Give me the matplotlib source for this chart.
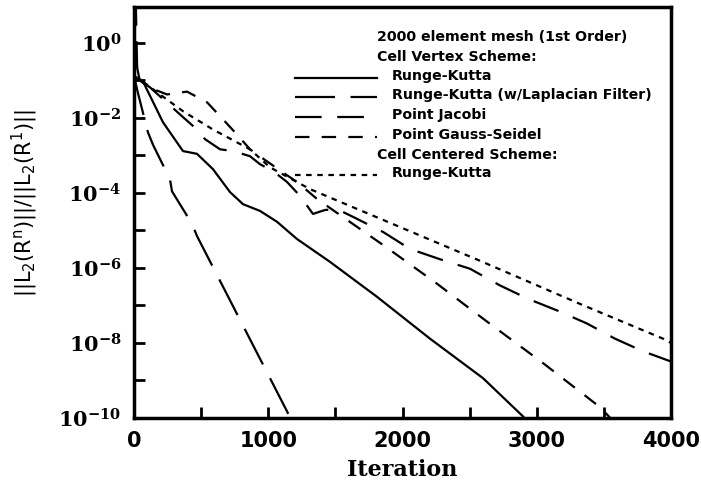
import matplotlib
matplotlib.use("Agg")
import matplotlib.pyplot as plt
from matplotlib.ticker import FixedLocator, NullFormatter

plt.rcParams["mathtext.fontset"] = "dejavuserif"

# values (iteration, residual ratio)
rk_x = [0, 40, 67, 216, 365, 469, 588, 715, 812, 939, 1065, 1214, 1460, 1810, 2205, 2600, 2898, 2915]
rk_y = [0.56, 0.11, 0.093, 7.6e-3, 1.3e-3, 1.1e-3, 4.3e-4, 1.05e-4, 5.0e-5, 3.3e-5,
        1.7e-5, 5.9e-6, 1.45e-6, 1.7e-7, 1.3e-8, 1.15e-9, 1.1e-10, 9e-11]

lf_x = [0, 30, 104, 142, 268, 283, 432, 469, 1140, 1170]
lf_y = [0.13, 0.045, 4.1e-3, 1.9e-3, 2.3e-4, 1.1e-4, 1.5e-5, 7.1e-6, 1.5e-10, 9e-11]

pj_x = [0, 12, 25, 119, 358, 469, 529, 641, 738, 864, 939, 1036, 1140, 1237, 1333, 1423,
        1512, 1631, 1855, 2056, 2280, 2503, 2727, 2935, 3158, 3374, 3583, 3792, 4000]
pj_y = [0.13, 20.0, 0.11, 0.065, 0.011, 4.9e-3, 2.7e-3, 1.45e-3, 1.3e-3, 9.5e-4, 5.8e-4,
        3.8e-4, 1.95e-4, 8.3e-5, 2.75e-5, 3.5e-5, 3.7e-5, 2.3e-5, 9.1e-6, 3.2e-6, 1.7e-6,
        9.5e-7, 3.4e-7, 1.5e-7, 7.2e-8, 3.3e-8, 1.3e-8, 6.0e-9, 3.2e-9]

gs_x = [0, 120, 246, 395, 544, 663, 767, 864, 991, 1110, 1214, 1363, 1877, 2257, 2376,
        2630, 3047, 3471, 3560]
gs_y = [0.13, 0.063, 0.042, 0.05, 0.026, 9.1e-3, 3.6e-3, 1.45e-3, 6.9e-4, 3.5e-4, 1.95e-4,
        6.9e-5, 3.6e-6, 3.8e-7, 1.8e-7, 3.7e-8, 2.9e-9, 1.95e-10, 9e-11]

cc_x = [0, 45, 194, 365, 588, 864, 1013, 1311, 1981, 2577, 3322, 3950, 4000]
cc_y = [0.13, 0.105, 0.042, 0.015, 4.9e-3, 1.45e-3, 4.8e-4, 1.26e-4, 1.23e-5, 1.55e-6,
        1.1e-7, 1.26e-8, 1.0e-8]

labels = ["Runge-Kutta", "Runge-Kutta (w/Laplacian Filter)", "Point Jacobi",
          "Point Gauss-Seidel", "Runge-Kutta"]

y_major = [1e0, 1e-2, 1e-4, 1e-6, 1e-8, 1e-10]
y_minor = [1e-1, 1e-3, 1e-5, 1e-7, 1e-9]
y_ticklabels = [r"$\mathbf{10^{0}}$", r"$\mathbf{10^{-2}}$", r"$\mathbf{10^{-4}}$",
                r"$\mathbf{10^{-6}}$", r"$\mathbf{10^{-8}}$", r"$\mathbf{10^{-10}}$"]
x_major = [0, 1000, 2000, 3000, 4000]
x_minor = [500, 1500, 2500, 3500]

lw = 1.6
styles = [
    dict(linestyle="-"),
    dict(linestyle=(0, (18, 7))),
    dict(linestyle=(0, (12, 7))),
    dict(linestyle=(0, (6.5, 5.5))),
    dict(linestyle=(0, (2.5, 2.5))),
]

fig = plt.figure(figsize=(7.01, 4.90), dpi=100)
ax = fig.add_axes([134 / 701, 1 - 418 / 490, 537 / 701, 411 / 490])

series = [(rk_x, rk_y), (lf_x, lf_y), (pj_x, pj_y), (gs_x, gs_y), (cc_x, cc_y)]
for (xs, ys), st in zip(series, styles):
    ax.plot(xs, ys, color="black", lw=lw, **st)

ax.set_yscale("log")
ax.set_xlim(0, 4000)
ax.set_ylim(1e-10, 9e0)

ax.yaxis.set_major_locator(FixedLocator(y_major))
ax.yaxis.set_minor_locator(FixedLocator(y_minor))
ax.yaxis.set_minor_formatter(NullFormatter())
ax.set_yticklabels(y_ticklabels)
ax.set_xticks(x_major)
ax.set_xticks(x_minor, minor=True)
ax.set_xticklabels([str(v) for v in x_major])

ax.tick_params(which="both", direction="in", length=8, width=2, top=False, right=False)
ax.tick_params(axis="y", which="major", labelsize=15, pad=9)
ax.tick_params(axis="x", which="major", labelsize=15, pad=9)
for lab in ax.get_xticklabels():
    lab.set_fontweight("bold")
for s in ax.spines.values():
    s.set_linewidth(2.5)

ax.set_xlabel("Iteration", fontsize=16, fontweight="bold", family="DejaVu Serif", labelpad=6)
ax.set_ylabel(r"$\mathrm{||L_2(R^n)||/||L_2(R^1)||}$", fontsize=15, labelpad=8,
              math_fontfamily="dejavusans")
ax.yaxis.set_label_coords(-0.175, 0.523)

# hand-drawn legend block
def ax_pt(px, py):
    return (px - 134) / 537, (418 - py) / 411

tkw = dict(transform=ax.transAxes, fontsize=10.2, fontweight="bold", va="center", ha="left")
x0, y0 = ax_pt(377, 37)
ax.text(x0, y0, "2000 element mesh (1st Order)", **tkw)
x0, y0 = ax_pt(377, 57)
ax.text(x0, y0, "Cell Vertex Scheme:", **tkw)
x0, y0 = ax_pt(377, 155)
ax.text(x0, y0, "Cell Centered Scheme:", **tkw)

rows_py = [78, 97, 117, 137, 175]
for lab, st, py in zip(labels, styles, rows_py):
    xa, ya = ax_pt(295, py)
    xb, _ = ax_pt(377, py)
    ax.plot([xa, xb], [ya, ya], transform=ax.transAxes, color="black", lw=lw, **st)
    xt, yt = ax_pt(392, py - 2)
    ax.text(xt, yt, lab, **tkw)

fig.savefig("out.png", dpi=100)
